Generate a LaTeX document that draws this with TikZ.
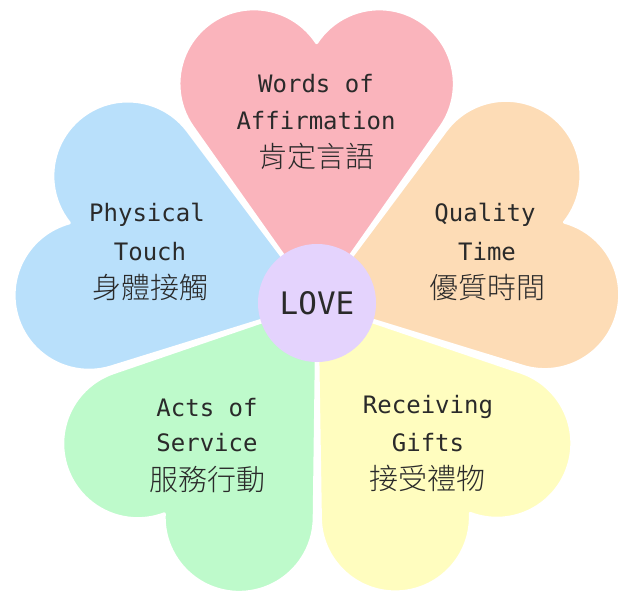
\documentclass[tikz,border=0pt]{standalone}
\usepackage{fontspec}
\newfontfamily\lat{DejaVu Sans Mono}
\newfontfamily\cjk{Noto Sans CJK TC Light}
\definecolor{pinkH}{HTML}{FAB4BC}
\definecolor{orangeH}{HTML}{FDDCB6}
\definecolor{yellowH}{HTML}{FFFDBF}
\definecolor{greenH}{HTML}{BEFACB}
\definecolor{blueH}{HTML}{B9E0FB}
\definecolor{lavH}{HTML}{E4D3FD}
\definecolor{txt}{HTML}{2A2A2A}
\tikzset{
  heartshape/.style={draw=white, line width=3pt, line join=round},
  en/.style={font=\lat\fontsize{24}{24}\selectfont, text=txt, inner sep=0pt},
  zh/.style={font=\cjk\fontsize{29}{29}\selectfont, text=txt, inner sep=0pt},
  lovefont/.style={font=\lat\fontsize{31}{31}\selectfont, text=txt, inner sep=0pt}
}
\newcommand\drawheart[2]{%
  \begin{scope}[shift={(317,295)},rotate=#1]
    \filldraw[heartshape,fill=#2] (0,0) -- (123.6,175.9)
      arc[start angle=-35.2,end angle=146.7,radius=75]
      arc[start angle=33.3,end angle=215.2,radius=75] -- cycle;
  \end{scope}}
\begin{document}
\begin{tikzpicture}[x=1pt,y=1pt]
\useasboundingbox (0,0) rectangle (623,598);
\fill[white] (0,0) rectangle (623,598);
\drawheart{0}{pinkH}
\drawheart{-72}{orangeH}
\drawheart{-144}{yellowH}
\drawheart{144}{greenH}
\drawheart{72}{blueH}
\node[circle, fill=lavH, minimum size=118pt, inner sep=0pt] (love) at (317,295) {};
\node[lovefont] (lovetxt) at (love.center) {LOVE};
% pink
\node[en] (w1) at (316,514) {Words of};
\node[en] (w2) at (316,477) {Affirmation};
\node[zh] (w3) at (316,442) {肯定言語};
% blue
\node[en] (b1) at (147,383) {Physical};
\node[en] (b2) at (150,346) {Touch};
\node[zh] (b3) at (150,311) {身體接觸};
% orange
\node[en] (o1) at (485,383) {Quality};
\node[en] (o2) at (487,346) {Time};
\node[zh] (o3) at (487,310) {優質時間};
% green
\node[en] (g1) at (207,190) {Acts of};
\node[en] (g2) at (207,155) {Service};
\node[zh] (g3) at (207,118) {服務行動};
% yellow
\node[en] (y1) at (428,191) {Receiving};
\node[en] (y2) at (428,155) {Gifts};
\node[zh] (y3) at (427,120) {接受禮物};
\end{tikzpicture}
\end{document}
